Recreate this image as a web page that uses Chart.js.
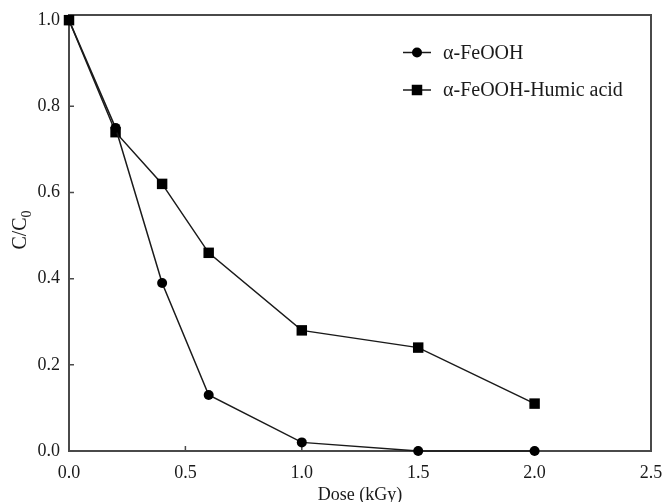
<!DOCTYPE html>
<html>
<head>
<meta charset="utf-8">
<script src="https://cdn.jsdelivr.net/npm/chart.js@4/dist/chart.umd.min.js"></script>
<style>
  html, body { margin: 0; padding: 0; background: #ffffff; }
  #c { display: block; }
</style>
</head>
<body>
<canvas id="c" width="662" height="502"></canvas>
<script>
// ---- data ----
const doses = [0, 0.2, 0.4, 0.6, 1.0, 1.5, 2.0];
const feooh = [1.0, 0.75, 0.39, 0.13, 0.02, 0.0, 0.0];
const feoohHumic = [1.0, 0.74, 0.62, 0.46, 0.28, 0.24, 0.11];
const seriesNames = ['α-FeOOH', 'α-FeOOH-Humic acid'];
const xTicks = [0, 0.5, 1.0, 1.5, 2.0, 2.5];
const yTicks = [0, 0.2, 0.4, 0.6, 0.8, 1.0];
const xTitle = 'Dose (kGy)';
const yTitleMain = 'C/C';
const yTitleSub = '0';

const FONT = '"Liberation Serif", "Times New Roman", serif';
const INK = '#1a1a1a';
const AXIS = '#4a4a4a';

const toPts = (ys) => doses.map((d, i) => ({ x: d, y: ys[i] }));

const framePlugin = {
  id: 'frame',
  beforeDatasetsDraw(chart) {
    const { ctx, chartArea: a, scales } = chart;
    ctx.save();
    ctx.strokeStyle = AXIS;
    ctx.lineWidth = 2;
    ctx.strokeRect(a.left, a.top, a.right - a.left, a.bottom - a.top);
    ctx.lineWidth = 1.5;
    ctx.beginPath();
    xTicks.forEach(v => {
      const px = scales.x.getPixelForValue(v);
      ctx.moveTo(px, a.bottom);
      ctx.lineTo(px, a.bottom - 5);
    });
    yTicks.forEach(v => {
      const py = scales.y.getPixelForValue(v);
      ctx.moveTo(a.left, py);
      ctx.lineTo(a.left + 5, py);
    });
    ctx.stroke();
    ctx.restore();
  },
  afterDraw(chart) {
    const { ctx, chartArea: a } = chart;
    ctx.save();
    // y axis title with subscript
    const cy = (a.top + a.bottom) / 2 - 3;
    ctx.translate(21, cy);
    ctx.rotate(-Math.PI / 2);
    ctx.fillStyle = INK;
    ctx.textBaseline = 'middle';
    ctx.font = '20px ' + FONT;
    const w1 = ctx.measureText(yTitleMain).width;
    ctx.font = '14px ' + FONT;
    const w2 = ctx.measureText(yTitleSub).width;
    const start = -(w1 + w2) / 2;
    ctx.font = '20px ' + FONT;
    ctx.textAlign = 'left';
    ctx.fillText(yTitleMain, start, 0);
    ctx.font = '14px ' + FONT;
    ctx.fillText(yTitleSub, start + w1, 6);
    ctx.restore();

    // legend
    ctx.save();
    const rows = [52.5, 90];
    const styles = ['circle', 'rect'];
    rows.forEach((y, i) => {
      ctx.strokeStyle = INK;
      ctx.lineWidth = 1.5;
      ctx.beginPath();
      ctx.moveTo(403, y);
      ctx.lineTo(431, y);
      ctx.stroke();
      ctx.fillStyle = '#000';
      ctx.beginPath();
      if (styles[i] === 'circle') {
        ctx.arc(417, y, 5, 0, Math.PI * 2);
      } else {
        ctx.rect(417 - 5.25, y - 5.25, 10.5, 10.5);
      }
      ctx.fill();
      ctx.fillStyle = INK;
      ctx.font = '20px ' + FONT;
      ctx.textBaseline = 'middle';
      ctx.textAlign = 'left';
      ctx.fillText(seriesNames[i], 443, y + 1);
    });
    ctx.restore();
  }
};

new Chart(document.getElementById('c'), {
  type: 'line',
  data: {
    datasets: [
      {
        label: seriesNames[0],
        data: toPts(feooh),
        borderColor: INK,
        borderWidth: 1.5,
        backgroundColor: '#000',
        pointStyle: 'circle',
        pointRadius: 5,
        pointBorderWidth: 0,
        pointBackgroundColor: '#000',
        tension: 0,
        clip: false
      },
      {
        label: seriesNames[1],
        data: toPts(feoohHumic),
        borderColor: INK,
        borderWidth: 1.5,
        backgroundColor: '#000',
        pointStyle: 'rect',
        pointRadius: 7.4,
        pointBorderWidth: 0,
        pointBackgroundColor: '#000',
        tension: 0,
        clip: false
      }
    ]
  },
  options: {
    responsive: false,
    animation: false,
    devicePixelRatio: 1,
    layout: { padding: { top: 15, right: 0, left: 0, bottom: 0 } },
    plugins: {
      legend: { display: false },
      tooltip: { enabled: false }
    },
    scales: {
      x: {
        type: 'linear',
        min: 0,
        max: 2.5,
        afterBuildTicks: (s) => { s.ticks = xTicks.map(v => ({ value: v })); },
        afterFit: (s) => { s.height = 51; s.paddingRight = 11; s.paddingLeft = 0; },
        grid: { display: false },
        border: { display: false },
        ticks: {
          padding: 3,
          maxRotation: 0,
          color: INK,
          font: { family: FONT, size: 18 },
          callback: (v) => Number(v).toFixed(1)
        },
        title: {
          display: true,
          text: xTitle,
          color: INK,
          font: { family: FONT, size: 18, lineHeight: 1 },
          padding: { top: 0, bottom: -2 }
        }
      },
      y: {
        type: 'linear',
        min: 0,
        max: 1.012,
        afterBuildTicks: (s) => { s.ticks = yTicks.map(v => ({ value: v })); },
        afterFit: (s) => { s.width = 69; },
        grid: { display: false },
        border: { display: false },
        ticks: {
          padding: 1,
          color: INK,
          font: { family: FONT, size: 18 },
          callback: (v) => Number(v).toFixed(1)
        }
      }
    }
  },
  plugins: [framePlugin]
});
</script>
</body>
</html>
